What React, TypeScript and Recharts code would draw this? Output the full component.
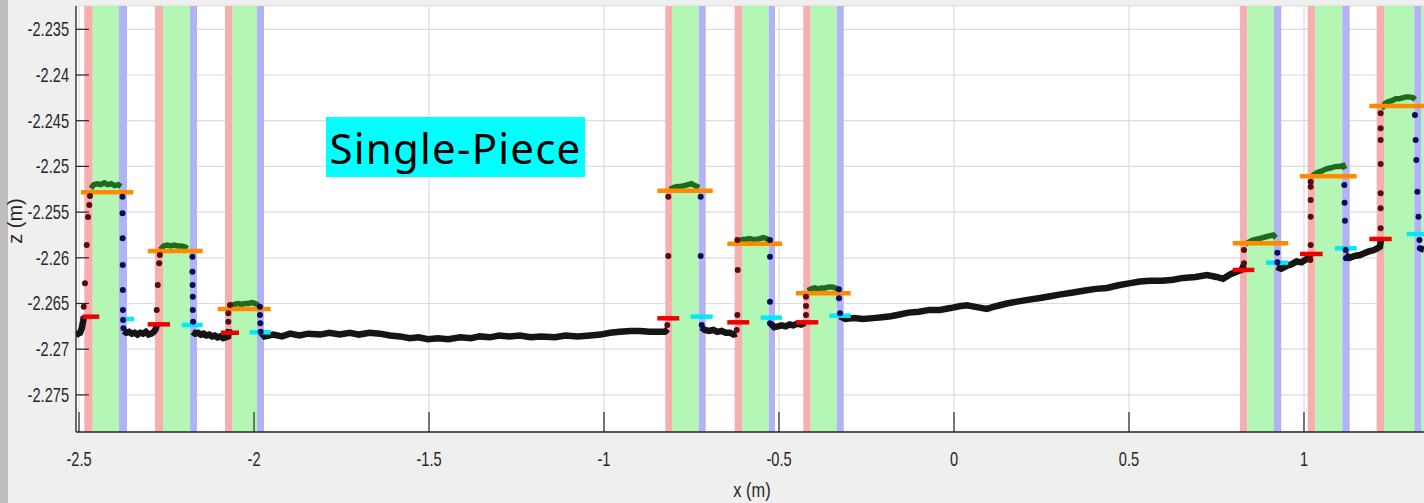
import React from 'react';
import {
  ComposedChart,
  Line,
  Scatter,
  XAxis,
  YAxis,
  CartesianGrid,
  ReferenceArea,
  ReferenceLine,
} from 'recharts';

// ---------- axes ----------
const xDomain: [number, number] = [-2.5086, 1.3429];
const zDomain: [number, number] = [-2.27906, -2.23245];
const xTicks = [-2.5, -2, -1.5, -1, -0.5, 0, 0.5, 1];
const zTicks = [-2.275, -2.27, -2.265, -2.26, -2.255, -2.25, -2.245, -2.24, -2.235];

// ---------- shaded bands (x ranges) ----------
const pinkBands: [number, number][] = [
  [-2.4849, -2.4609], [-2.2829, -2.26], [-2.0829, -2.062],
  [-0.8249, -0.8057], [-0.6266, -0.6057], [-0.4306, -0.4094],
  [0.8171, 0.838], [1.0106, 1.0323], [1.2077, 1.2286],
];
const greenBands: [number, number][] = [
  [-2.4609, -2.3857], [-2.26, -2.1829], [-2.062, -1.9914],
  [-0.8057, -0.7294], [-0.6057, -0.5294], [-0.4094, -0.3351],
  [0.838, 0.9143], [1.0323, 1.1094], [1.2286, 1.3151], [1.3351, 1.3429],
];
const blueBands: [number, number][] = [
  [-2.3857, -2.3629], [-2.1829, -2.1629], [-1.9914, -1.9714],
  [-0.7294, -0.7094], [-0.5294, -0.5114], [-0.3351, -0.3151],
  [0.9143, 0.9351], [1.1094, 1.1306], [1.3151, 1.3351],
];

// ---------- level markers ----------
const orangeLevels = [
  { x1: -2.4943, x2: -2.3449, z: -2.25283 },
  { x1: -2.3037, x2: -2.1466, z: -2.25926 },
  { x1: -2.1037, x2: -1.9523, z: -2.2656 },
  { x1: -0.8477, x2: -0.6894, z: -2.25266 },
  { x1: -0.6477, x2: -0.4914, z: -2.25846 },
  { x1: -0.4514, x2: -0.2951, z: -2.26389 },
  { x1: 0.7963, x2: 0.9551, z: -2.25842 },
  { x1: 0.9886, x2: 1.1506, z: -2.25108 },
  { x1: 1.1866, x2: 1.3429, z: -2.24339 },
];
const redLevels = [
  { x1: -2.4906, x2: -2.442, z: -2.26644 },
  { x1: -2.3037, x2: -2.24, z: -2.26728 },
  { x1: -2.0943, x2: -2.0429, z: -2.2682 },
  { x1: -0.8477, x2: -0.7849, z: -2.26662 },
  { x1: -0.6477, x2: -0.5849, z: -2.26706 },
  { x1: -0.4514, x2: -0.3877, z: -2.26706 },
  { x1: 0.7963, x2: 0.8580, z: -2.26133 },
  { x1: 0.9886, x2: 1.0534, z: -2.25958 },
  { x1: 1.1866, x2: 1.2506, z: -2.25794 },
];
const cyanLevels = [
  { x1: -2.3809, x2: -2.3429, z: -2.2667 },
  { x1: -2.2066, x2: -2.1466, z: -2.26735 },
  { x1: -2.0123, x2: -1.9523, z: -2.26815 },
  { x1: -0.7523, x2: -0.6894, z: -2.26644 },
  { x1: -0.5523, x2: -0.4914, z: -2.26655 },
  { x1: -0.3563, x2: -0.2951, z: -2.26633 },
  { x1: 0.8914, x2: 0.9551, z: -2.26053 },
  { x1: 1.0886, x2: 1.1506, z: -2.25896 },
  { x1: 1.2934, x2: 1.3429, z: -2.2574 },
];

// ---------- measured profile: ground (black) ----------
const groundSegments: number[][][] = [
  [[-2.509, -2.2685], [-2.503, -2.2683], [-2.497, -2.2682], [-2.492, -2.2677], [-2.488, -2.2669], [-2.486, -2.2664]],
  [[-2.372, -2.268], [-2.365, -2.2682], [-2.357, -2.2681], [-2.349, -2.2683], [-2.341, -2.2682], [-2.333, -2.2684],
   [-2.325, -2.2682], [-2.317, -2.2683], [-2.309, -2.2681], [-2.301, -2.2684], [-2.293, -2.2683], [-2.286, -2.2681],
   [-2.281, -2.2678], [-2.278, -2.2674]],
  [[-2.176, -2.2681], [-2.168, -2.2683], [-2.16, -2.2682], [-2.152, -2.2684], [-2.144, -2.2683], [-2.136, -2.2685],
   [-2.128, -2.2684], [-2.12, -2.2686], [-2.112, -2.2685], [-2.104, -2.2687], [-2.096, -2.2686], [-2.088, -2.2688],
   [-2.08, -2.2687], [-2.074, -2.2686], [-2.071, -2.2678]],
  [[-1.982, -2.2681], [-1.97, -2.2686], [-1.945, -2.2684], [-1.92, -2.2686], [-1.897, -2.2683], [-1.87, -2.2685],
   [-1.845, -2.2683], [-1.811, -2.2684], [-1.785, -2.2682], [-1.755, -2.2684], [-1.726, -2.2682], [-1.7, -2.2684],
   [-1.67, -2.2682], [-1.64, -2.2683], [-1.612, -2.2685], [-1.583, -2.2686], [-1.555, -2.2688], [-1.53, -2.2687],
   [-1.503, -2.2689], [-1.475, -2.2688], [-1.445, -2.2689], [-1.411, -2.2687], [-1.38, -2.2688], [-1.355, -2.2686],
   [-1.326, -2.2687], [-1.3, -2.2685], [-1.27, -2.2686], [-1.24, -2.2685], [-1.21, -2.2687], [-1.18, -2.2686],
   [-1.14, -2.2687], [-1.11, -2.2685], [-1.075, -2.2686], [-1.04, -2.2685], [-1.01, -2.2684], [-0.983, -2.2682],
   [-0.955, -2.2681], [-0.925, -2.268], [-0.897, -2.268], [-0.87, -2.2681], [-0.845, -2.2681], [-0.826, -2.2681],
   [-0.818, -2.2678]],
  [[-0.722, -2.2676], [-0.712, -2.2679], [-0.7, -2.268], [-0.688, -2.2679], [-0.676, -2.2681], [-0.664, -2.268],
   [-0.652, -2.2682], [-0.64, -2.2682], [-0.63, -2.2684], [-0.621, -2.2683]],
  [[-0.524, -2.2672], [-0.514, -2.2676], [-0.503, -2.2675], [-0.492, -2.2674], [-0.481, -2.2675], [-0.47, -2.2673],
   [-0.459, -2.2674], [-0.448, -2.2672], [-0.437, -2.2673], [-0.426, -2.2671]],
  [[-0.326, -2.2664], [-0.31, -2.2667], [-0.285, -2.2666], [-0.26, -2.2667], [-0.231, -2.2666], [-0.205, -2.2665],
   [-0.18, -2.2664], [-0.155, -2.2662], [-0.13, -2.266], [-0.1, -2.2659], [-0.07, -2.2657], [-0.04, -2.2657],
   [-0.01, -2.2655], [0.015, -2.2653], [0.037, -2.2652], [0.065, -2.2654], [0.094, -2.2656], [0.12, -2.2653],
   [0.151, -2.265], [0.18, -2.2648], [0.21, -2.2646], [0.246, -2.2644], [0.275, -2.2642], [0.305, -2.264],
   [0.34, -2.2638], [0.37, -2.2636], [0.405, -2.2634], [0.437, -2.2633], [0.47, -2.263], [0.5, -2.2628],
   [0.531, -2.2626], [0.56, -2.2625], [0.595, -2.2625], [0.626, -2.2624], [0.655, -2.2622], [0.69, -2.2621],
   [0.723, -2.2619], [0.75, -2.2621], [0.769, -2.2623], [0.79, -2.2618], [0.809, -2.2615], [0.822, -2.2613],
   [0.828, -2.2608]],
  [[0.922, -2.261], [0.935, -2.2612], [0.95, -2.2609], [0.965, -2.2607], [0.979, -2.2604], [0.993, -2.2605],
   [1.005, -2.2602], [1.014, -2.26], [1.018, -2.2597]],
  [[1.118, -2.2597], [1.13, -2.26], [1.145, -2.2598], [1.16, -2.2597], [1.172, -2.2595], [1.185, -2.2593],
   [1.197, -2.2592], [1.208, -2.259], [1.217, -2.2588], [1.22, -2.258]],
  [[1.333, -2.259], [1.3429, -2.2591]],
];

// ---------- measured profile: step tops (dark green) ----------
const topSegments: number[][][] = [
  [[-2.466, -2.2524], [-2.458, -2.252], [-2.448, -2.2519], [-2.438, -2.252], [-2.428, -2.2518], [-2.418, -2.252],
   [-2.408, -2.2519], [-2.398, -2.2521], [-2.388, -2.252], [-2.38, -2.2522]],
  [[-2.268, -2.2591], [-2.258, -2.2587], [-2.248, -2.2586], [-2.238, -2.2587], [-2.228, -2.2586], [-2.218, -2.2587],
   [-2.208, -2.2587], [-2.198, -2.2588], [-2.19, -2.259]],
  [[-2.066, -2.2653], [-2.056, -2.2651], [-2.046, -2.265], [-2.036, -2.2651], [-2.026, -2.265], [-2.016, -2.265],
   [-2.006, -2.2649], [-1.996, -2.265], [-1.986, -2.2652]],
  [[-0.812, -2.2525], [-0.8, -2.2523], [-0.79, -2.2522], [-0.78, -2.2522], [-0.77, -2.2521], [-0.76, -2.252],
   [-0.75, -2.2519], [-0.74, -2.2521], [-0.728, -2.2523]],
  [[-0.615, -2.2582], [-0.605, -2.258], [-0.595, -2.258], [-0.585, -2.2579], [-0.575, -2.258], [-0.565, -2.258],
   [-0.555, -2.2579], [-0.545, -2.2578], [-0.535, -2.2579], [-0.528, -2.2582]],
  [[-0.418, -2.2636], [-0.408, -2.2634], [-0.398, -2.2633], [-0.388, -2.2634], [-0.378, -2.2633], [-0.368, -2.2633],
   [-0.358, -2.2632], [-0.348, -2.2632], [-0.338, -2.2633], [-0.33, -2.2635]],
  [[0.832, -2.2585], [0.842, -2.2583], [0.852, -2.2581], [0.862, -2.258], [0.872, -2.2579], [0.882, -2.2578],
   [0.892, -2.2577], [0.902, -2.2576], [0.912, -2.2575], [0.92, -2.2578]],
  [[1.022, -2.2511], [1.032, -2.2508], [1.042, -2.2506], [1.052, -2.2505], [1.062, -2.2503], [1.072, -2.2502],
   [1.082, -2.2501], [1.092, -2.25], [1.102, -2.25], [1.112, -2.2499], [1.117, -2.2503]],
  [[1.222, -2.2437], [1.232, -2.2431], [1.242, -2.2429], [1.252, -2.2428], [1.262, -2.2426], [1.272, -2.2426],
   [1.282, -2.2425], [1.292, -2.2424], [1.302, -2.2424], [1.312, -2.2425], [1.318, -2.2427]],
];

// ---------- measured profile: rising / falling edge samples ----------
const risingEdge: number[][] = [
  [-2.4866, -2.26535], [-2.4829, -2.26279], [-2.478, -2.2586], [-2.4743, -2.25554], [-2.4706, -2.25422], [-2.4686, -2.25324],
  [-2.278, -2.26571], [-2.275, -2.26298], [-2.271, -2.26061], [-2.269, -2.2597],
  [-2.0734, -2.26699], [-2.0734, -2.26607], [-2.0686, -2.26516],
  [-0.8163, -2.25332], [-0.8163, -2.2598], [-0.8191, -2.26735],
  [-0.619, -2.25805], [-0.618, -2.26134], [-0.619, -2.26626], [-0.621, -2.2679],
  [-0.4229, -2.26426], [-0.4229, -2.26527], [-0.4229, -2.26626],
  [0.8286, -2.25915], [0.8286, -2.2606],
  [1.019, -2.25167], [1.019, -2.25222], [1.019, -2.25368], [1.019, -2.2555], [1.019, -2.2586], [1.018, -2.26024],
  [1.219, -2.24419], [1.219, -2.24583], [1.219, -2.24711], [1.219, -2.24974], [1.219, -2.25294], [1.219, -2.25458], [1.219, -2.25677],
];
const fallingEdge: number[][] = [
  [-2.376, -2.25332], [-2.3757, -2.25513], [-2.3754, -2.25787], [-2.3751, -2.26079], [-2.3748, -2.26352],
  [-2.3745, -2.26571], [-2.374, -2.26681], [-2.373, -2.26771],
  [-2.176, -2.25988], [-2.176, -2.26152], [-2.1755, -2.26298], [-2.175, -2.26426], [-2.175, -2.26571], [-2.174, -2.26699],
  [-1.983, -2.26535], [-1.983, -2.26626], [-1.982, -2.26717], [-1.981, -2.26808],
  [-0.7237, -2.25332], [-0.7237, -2.2598], [-0.7208, -2.26735],
  [-0.5257, -2.25805], [-0.5257, -2.25988], [-0.5257, -2.2648], [-0.5257, -2.26717],
  [-0.3286, -2.26345], [-0.3286, -2.26443], [-0.3257, -2.26607],
  [0.9238, -2.25944], [0.924, -2.2605],
  [1.1152, -2.25204], [1.116, -2.25397], [1.117, -2.25594], [1.119, -2.25915], [1.12, -2.26006],
  [1.317, -2.24438], [1.319, -2.24711], [1.321, -2.2493], [1.324, -2.25277], [1.327, -2.2555], [1.33, -2.25805], [1.331, -2.25896],
];

// ---------- build series data ----------
const joinSegments = (segs: number[][][]) => {
  const out: { x: number; z: number | null }[] = [];
  segs.forEach((seg, i) => {
    seg.forEach(([x, z]) => out.push({ x, z }));
    if (i < segs.length - 1) out.push({ x: seg[seg.length - 1][0] + 0.0001, z: null });
  });
  return out;
};
const groundData = joinSegments(groundSegments);
const topData = joinSegments(topSegments);
const risingData = risingEdge.map(([x, z]) => ({ x, z }));
const fallingData = fallingEdge.map(([x, z]) => ({ x, z }));

const FONT = "'Liberation Sans', Arial, sans-serif";
const AX = '#262626';
const SQ = 0.73; // horizontal squeeze of the narrow axis font

const fmt = (v: number) => String(Number(v.toFixed(3)));

const XTick = (props: any) => {
  const { x, y, payload } = props;
  return (
    <g>
      <line x1={x} x2={x} y1={y} y2={y - 20} stroke={AX} strokeWidth={1.2} />
      <text
        transform={`translate(${x} ${y + 34}) scale(${SQ} 1)`}
        textAnchor="middle"
        fontSize={20}
        fontFamily={FONT}
        fill={AX}
      >
        {fmt(payload.value)}
      </text>
    </g>
  );
};

const YTick = (props: any) => {
  const { x, y, payload } = props;
  return (
    <g>
      <line x1={x} x2={x + 13} y1={y} y2={y} stroke={AX} strokeWidth={1.2} />
      <text
        transform={`translate(${x - 7} ${y + 7}) scale(${SQ} 1)`}
        textAnchor="end"
        fontSize={20}
        fontFamily={FONT}
        fill={AX}
      >
        {fmt(payload.value)}
      </text>
    </g>
  );
};

const XLabel = (props: any) => {
  const vb = props.viewBox || {};
  const cx = (vb.x ?? 76) + (vb.width ?? 1348) / 2;
  return (
    <text transform={`translate(${cx + 2} 497) scale(0.78 1)`} textAnchor="middle" fontSize={21} fontFamily={FONT} fill={AX}>
      x (m)
    </text>
  );
};

const YLabel = (props: any) => {
  const vb = props.viewBox || {};
  const cy = (vb.y ?? 6) + (vb.height ?? 426) / 2;
  return (
    <text transform={`translate(22 ${cy + 2}) rotate(-90)`} textAnchor="middle" fontSize={20} fontFamily={FONT} fill={AX}>
      z (m)
    </text>
  );
};

const dot = (color: string) => (p: any) =>
  p.cx == null ? <g /> : <circle cx={p.cx} cy={p.cy} r={3} fill={color} />;

export default function App() {
  return (
    <div style={{ position: 'absolute', left: 0, top: 0, width: 1424, height: 503, background: '#efefef', overflow: 'hidden' }}>
      <div style={{ position: 'absolute', left: 0, top: 0, width: 8, height: 503, background: '#bdbdbd' }} />
      <ComposedChart
        width={1424}
        height={503}
        margin={{ top: 6, right: 0, bottom: 0, left: 0 }}
        style={{ position: 'absolute', left: 0, top: 0 }}
      >
        <CartesianGrid stroke="#dcdcdc" strokeWidth={1.2} fill="#ffffff" />
        <XAxis
          type="number"
          dataKey="x"
          domain={xDomain}
          ticks={xTicks}
          allowDataOverflow
          height={71}
          tickLine={false}
          tickSize={0}
          tickMargin={0}
          tick={<XTick />}
          axisLine={{ stroke: AX, strokeWidth: 1.3 }}
          label={<XLabel />}
        />
        <YAxis
          type="number"
          dataKey="z"
          domain={zDomain}
          ticks={zTicks}
          allowDataOverflow
          width={76}
          tickLine={false}
          tickSize={0}
          tickMargin={0}
          tick={<YTick />}
          axisLine={{ stroke: AX, strokeWidth: 1.3 }}
          label={<YLabel />}
        />
        {pinkBands.map(([a, b], i) => (
          <ReferenceArea key={'p' + i} x1={a} x2={b} fill="#f7aeae" fillOpacity={1} stroke="none" />
        ))}
        {greenBands.map(([a, b], i) => (
          <ReferenceArea key={'g' + i} x1={a} x2={b} fill="#b4f7b4" fillOpacity={1} stroke="none" />
        ))}
        {blueBands.map(([a, b], i) => (
          <ReferenceArea key={'b' + i} x1={a} x2={b} fill="#b2b2f7" fillOpacity={1} stroke="none" />
        ))}
        <Line data={groundData} dataKey="z" stroke="#151515" strokeWidth={6.5} dot={false} isAnimationActive={false} connectNulls={false} />
        <Line data={topData} dataKey="z" stroke="#1d6b1d" strokeWidth={5.5} dot={false} isAnimationActive={false} connectNulls={false} />
        {orangeLevels.map((s, i) => (
          <ReferenceLine key={'o' + i} segment={[{ x: s.x1, y: s.z }, { x: s.x2, y: s.z }]} stroke="#ff8a00" strokeWidth={4.5} ifOverflow="visible" />
        ))}
        {redLevels.map((s, i) => (
          <ReferenceLine key={'r' + i} segment={[{ x: s.x1, y: s.z }, { x: s.x2, y: s.z }]} stroke="#f20000" strokeWidth={4.5} ifOverflow="visible" />
        ))}
        {cyanLevels.map((s, i) => (
          <ReferenceLine key={'c' + i} segment={[{ x: s.x1, y: s.z }, { x: s.x2, y: s.z }]} stroke="#00eaff" strokeWidth={4.5} ifOverflow="visible" />
        ))}
        <Scatter data={risingData} dataKey="z" shape={dot('#5a0c0c')} isAnimationActive={false} />
        <Scatter data={fallingData} dataKey="z" shape={dot('#0c0c5e')} isAnimationActive={false} />
      </ComposedChart>
      <div
        style={{
          position: 'absolute', left: 326, top: 117, width: 259, height: 60, background: '#00ffff',
          display: 'flex', alignItems: 'center', justifyContent: 'center',
          fontFamily: "'Noto Sans', 'Open Sans', sans-serif", fontSize: 42, color: '#000', letterSpacing: 1.2,
        }}
      >
        Single-Piece
      </div>
    </div>
  );
}
